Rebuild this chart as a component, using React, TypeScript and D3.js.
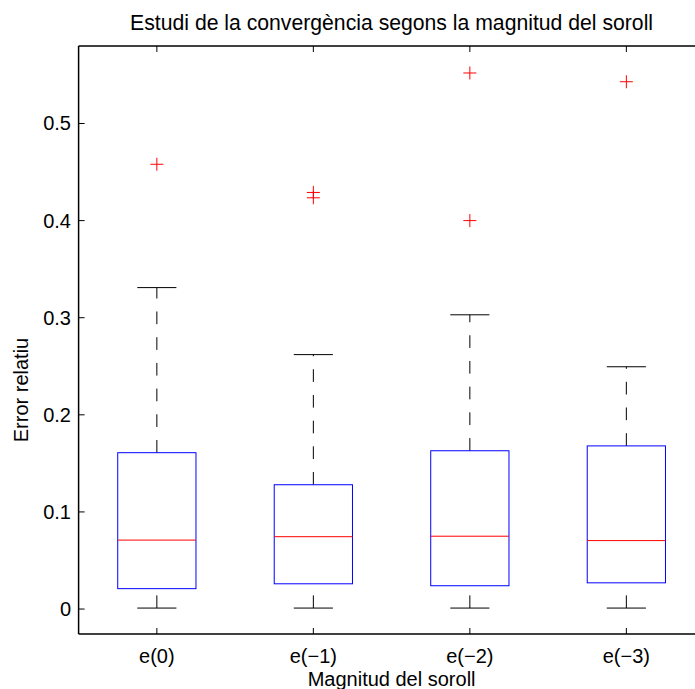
import React from "react";
import * as d3 from "d3";

// Box plot summary per noise magnitude
const categories = ["e(0)", "e(\u22121)", "e(\u22122)", "e(\u22123)"];
const lowerWhisker = [0.001, 0.001, 0.001, 0.001];
const q1 = [0.021, 0.026, 0.024, 0.027];
const median = [0.071, 0.0745, 0.075, 0.0705];
const q3 = [0.161, 0.128, 0.163, 0.168];
const upperWhisker = [0.331, 0.262, 0.303, 0.2495];
const outliers = [[0.458], [0.429, 0.4235], [0.552, 0.4], [0.543]];
const yTicks = [0, 0.1, 0.2, 0.3, 0.4, 0.5];

const W = 695;
const H = 689;
const left = 78.6;
const right = 704.6;
const top = 46;
const bottom = 634;
const FONT = "'Liberation Sans', Arial, Helvetica, sans-serif";

export default function App() {
  const x = d3.scaleLinear().domain([0.5, 4.5]).range([left, right]);
  const y = d3.scaleLinear().domain([-0.0257, 0.5798]).range([bottom, top]);
  const boxHalf = x(1.25) - x(1);
  const capHalf = x(1.125) - x(1);
  const tick = 6;

  return (
    <svg
      width={W}
      height={H}
      style={{ position: "absolute", left: 0, top: 0, background: "#fff" }}
      fontFamily={FONT}
    >
      <rect x={0} y={0} width={W} height={H} fill="#fff" />
      {/* title */}
      <text x={(left + right) / 2} y={30} fontSize={21.2} textAnchor="middle" fill="#000">
        Estudi de la convergència segons la magnitud del soroll
      </text>

      {/* boxes */}
      {categories.map((c, i) => {
        const cx = x(i + 1);
        return (
          <g key={c}>
            <line x1={cx} x2={cx} y1={y(q3[i])} y2={y(upperWhisker[i])} stroke="#000" strokeWidth={1} strokeDasharray="12.7 13" />
            <line x1={cx} x2={cx} y1={y(lowerWhisker[i])} y2={y(q1[i])} stroke="#000" strokeWidth={1} strokeDasharray="12.7 13" />
            <line x1={cx - capHalf} x2={cx + capHalf} y1={y(upperWhisker[i])} y2={y(upperWhisker[i])} stroke="#000" strokeWidth={1} />
            <line x1={cx - capHalf} x2={cx + capHalf} y1={y(lowerWhisker[i])} y2={y(lowerWhisker[i])} stroke="#000" strokeWidth={1} />
            <rect x={cx - boxHalf} y={y(q3[i])} width={boxHalf * 2} height={y(q1[i]) - y(q3[i])} fill="none" stroke="#0000ff" strokeWidth={1} />
            <line x1={cx - boxHalf} x2={cx + boxHalf} y1={y(median[i])} y2={y(median[i])} stroke="#ff0000" strokeWidth={1} />
            {outliers[i].map((v, j) => (
              <g key={j} stroke="#ff0000" strokeWidth={1}>
                <line x1={cx - 6.5} x2={cx + 6.5} y1={y(v)} y2={y(v)} />
                <line x1={cx} x2={cx} y1={y(v) - 6.5} y2={y(v) + 6.5} />
              </g>
            ))}
          </g>
        );
      })}

      {/* axes */}
      <line x1={left} x2={left} y1={top} y2={bottom} stroke="#000" strokeWidth={1.5} />
      <line x1={left} x2={right} y1={bottom} y2={bottom} stroke="#000" strokeWidth={1.5} />
      <line x1={left} x2={right} y1={top} y2={top} stroke="#000" strokeWidth={1.5} />

      {yTicks.map((t) => (
        <g key={t}>
          <line x1={left} x2={left + tick} y1={y(t)} y2={y(t)} stroke="#000" strokeWidth={1} />
          <text x={71} y={y(t) + 7} fontSize={20} textAnchor="end" fill="#000">
            {d3.format("~g")(t)}
          </text>
        </g>
      ))}

      {categories.map((c, i) => (
        <g key={c}>
          <line x1={x(i + 1)} x2={x(i + 1)} y1={bottom} y2={bottom - tick} stroke="#000" strokeWidth={1} />
          <line x1={x(i + 1)} x2={x(i + 1)} y1={top} y2={top + tick} stroke="#000" strokeWidth={1} />
          <text x={x(i + 1)} y={663} fontSize={20} textAnchor="middle" fill="#000">
            {c}
          </text>
        </g>
      ))}

      <text x={(left + right) / 2} y={686} fontSize={20} textAnchor="middle" fill="#000">
        Magnitud del soroll
      </text>
      <text
        transform={`translate(28, ${(top + bottom) / 2 + 50}) rotate(-90)`}
        fontSize={20}
        textAnchor="middle"
        fill="#000"
      >
        Error relatiu
      </text>
    </svg>
  );
}
